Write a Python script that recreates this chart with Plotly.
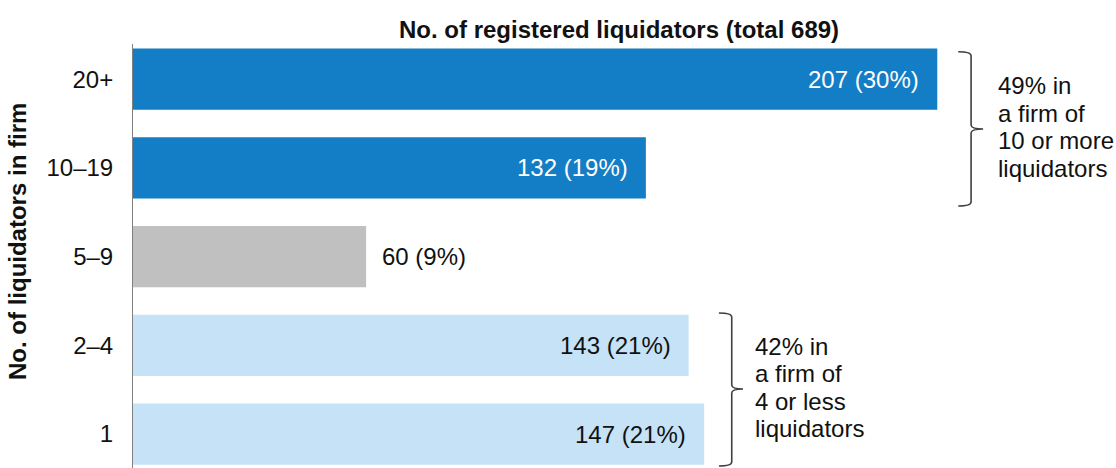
import plotly.graph_objects as go

# Data
categories = ["20+", "10–19", "5–9", "2–4", "1"]
counts = [207, 132, 60, 143, 147]
shares = ["30%", "19%", "9%", "21%", "21%"]
bar_colors = ["#137DC5", "#137DC5", "#C0C0C0", "#C5E2F7", "#C5E2F7"]
label_colors = ["white", "white", "#111111", "#111111", "#111111"]
label_inside = [True, True, False, True, True]

title_text = "No. of registered liquidators (total 689)"
ytitle_text = "No. of liquidators in firm"
bracket_texts = [
    ["49% in", "a firm of", "10 or more", "liquidators"],
    ["42% in", "a firm of", "4 or less", "liquidators"],
]

FONT = "Liberation Sans, Arial, sans-serif"
FS = 24

fig = go.Figure()
fig.add_trace(go.Bar(
    y=categories, x=counts, orientation="h",
    marker=dict(color=bar_colors, line=dict(width=0)),
    hoverinfo="skip", showlegend=False,
))

annotations = []
for i, (v, s, c, inside) in enumerate(zip(counts, shares, label_colors, label_inside)):
    annotations.append(dict(
        x=v, y=i, xref="x", yref="y", text=f"{v} ({s})", showarrow=False,
        xanchor="right" if inside else "left", xshift=-16 if inside else 14,
        yanchor="middle", font=dict(family=FONT, size=FS, color=c),
    ))

# Brackets (data units: x in counts, y in category index)
brackets = [
    dict(y0=-0.31, y1=1.43, ytip=0.561, xh=212.4, xv=215.7, xt=218.8, xtext=222.0),
    dict(y0=2.636, y1=4.361, ytip=3.493, xh=150.8, xv=154.1, xt=157.0, xtext=159.5),
]
line_offsets = [-43, -15.5, 12, 39.5]
shapes = []
ry = 0.045
for b, lines in zip(brackets, bracket_texts):
    p = (f"M {b['xh']},{b['y0']} Q {b['xv']},{b['y0']} {b['xv']},{b['y0']+ry} "
         f"L {b['xv']},{b['ytip']-ry} Q {b['xv']},{b['ytip']} {b['xt']},{b['ytip']} "
         f"Q {b['xv']},{b['ytip']} {b['xv']},{b['ytip']+ry} "
         f"L {b['xv']},{b['y1']-ry} Q {b['xv']},{b['y1']} {b['xh']},{b['y1']}")
    shapes.append(dict(type="path", path=p, xref="x", yref="y",
                       line=dict(color="#404040", width=1.6)))
    for off, t in zip(line_offsets, lines):
        annotations.append(dict(
            x=b["xtext"], y=b["ytip"], xref="x", yref="y", text=t, showarrow=False,
            xanchor="left", yanchor="middle", yshift=-off,
            font=dict(family=FONT, size=FS, color="#111111"),
        ))

annotations.append(dict(
    x=0.4939, y=1.035, xref="paper", yref="paper", text=f"<b>{title_text}</b>",
    showarrow=False, xanchor="center", yanchor="middle",
    font=dict(family=FONT, size=FS, color="#111111"),
))
annotations.append(dict(
    x=-0.118, y=0.533, xref="paper", yref="paper", text=f"<b>{ytitle_text}</b>",
    showarrow=False, xanchor="center", yanchor="middle", textangle=-90,
    font=dict(family=FONT, size=FS, color="#111111"),
))

fig.update_layout(
    width=1116, height=468,
    margin=dict(l=133, r=0, t=44, b=0),
    paper_bgcolor="white", plot_bgcolor="white",
    bargap=0.31,
    annotations=annotations, shapes=shapes,
    font=dict(family=FONT, size=FS, color="#111111"),
    xaxis=dict(range=[0, 253.0], showgrid=False, zeroline=False, showticklabels=False,
               showline=False, ticks=""),
    yaxis=dict(type="category", categoryorder="array", categoryarray=categories,
               range=[4.383, -0.397], showgrid=False, zeroline=False,
               showline=True, linecolor="#808080", linewidth=1, ticks="",
               ticklabelstandoff=14, tickfont=dict(family=FONT, size=FS, color="#111111")),
)

fig.write_html("out.html", config={"displayModeBar": False},
               post_script="document.body.style.margin='0';document.body.style.overflow='hidden';")
